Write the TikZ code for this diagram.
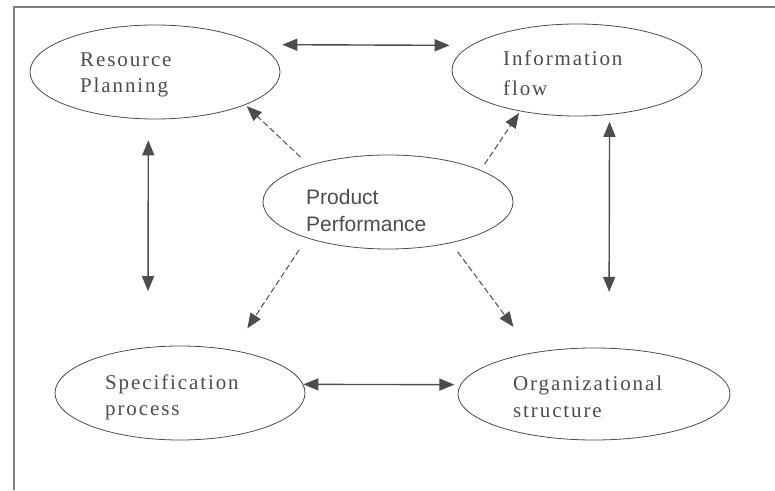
\documentclass[tikz,border=0pt]{standalone}
\usepackage{fontspec}
\setmainfont{Liberation Serif}
\newfontfamily\prodfont{Liberation Sans}
\usepackage{tikz}
\usetikzlibrary{arrows.meta,calc,shapes}
\definecolor{linegray}{rgb}{.3,.3,.3}
\definecolor{inkgray}{rgb}{.3,.3,.3}

\begin{document}
\begin{tikzpicture}[% styles used all over, override case-by-case
	x=1pt,y=1pt,
	>={Triangle[length=15pt,width=12pt]},
	every node/.style={
		align=left,		% so that "\\" breaks the line, flush left
		inner sep=0pt
		},
	bubble/.style={ellipse,draw=linegray,line width=.8pt,minimum width=250pt,minimum height=94pt},
	words/.style={anchor=base west,text=inkgray,font=\fontsize{21}{26}\selectfont\addfontfeature{LetterSpace=9}},
	every edge/.style={draw,line width=1.4pt,linegray},
	dashedge/.style={line width=1pt,dash pattern=on 6pt off 3pt}
	]
	\useasboundingbox (0,0) rectangle (775,490);
	% frame (only top and left are in view)
	\draw[line width=1.2pt,gray] (14,0) -- (14,483) -- (775,483);

	\node[bubble](E1) at (155,418) {};
	\node[bubble,minimum height=92pt](E2) at (577,420) {};
	\node[bubble](E3) at (388,288) {};
	\node[bubble](E4) at (180,97) {};
	\node[bubble,minimum width=272pt,minimum height=92pt](E5) at (594,96) {};

	% base = baseline of the last line
	\node[words](T1) at ($(E1)+(-75,-21)$) {Resource\\Planning};
	\node[words,font=\fontsize{21}{30}\selectfont\addfontfeature{LetterSpace=9}](T2) at ($(E2)+(-74,-26)$) {Information\\flow};
	\node[words,font=\fontsize{21}{27}\selectfont\prodfont](T3) at ($(E3)+(-82,-30)$) {Product\\Performance};
	\node[words](T4) at ($(E4)+(-75,-22)$) {Specification\\process};
	\node[words,font=\fontsize{21}{27}\selectfont\addfontfeature{LetterSpace=9}](T5) at ($(E5)+(-81,-23)$) {Organizational\\structure};

	\path[<->]
	(E1.15) edge [shorten <=25pt,shorten >=21pt] (E2.167)
	(E1.262) edge [shorten <=21pt,shorten >=56pt] (E4.125)
	(E2.306) edge [shorten <=7pt,shorten >=56pt] (E5.72)
	(E4.4) edge [shorten >=6pt] (E5.176)
	;
	\path[->]
	(E3.155) edge [dashedge,shorten <=12pt,shorten >=2pt] (E1.340)
	(E3.19) edge [dashedge,shorten <=7pt,shorten >=2pt] (E2.216)
	(E3.204) edge [dashedge,shorten <=14pt,shorten >=26pt] (E4.39)
	(E3.327) edge [dashedge,shorten <=11pt,shorten >=32pt] (E5.146)
	;
\end{tikzpicture}
\end{document}
